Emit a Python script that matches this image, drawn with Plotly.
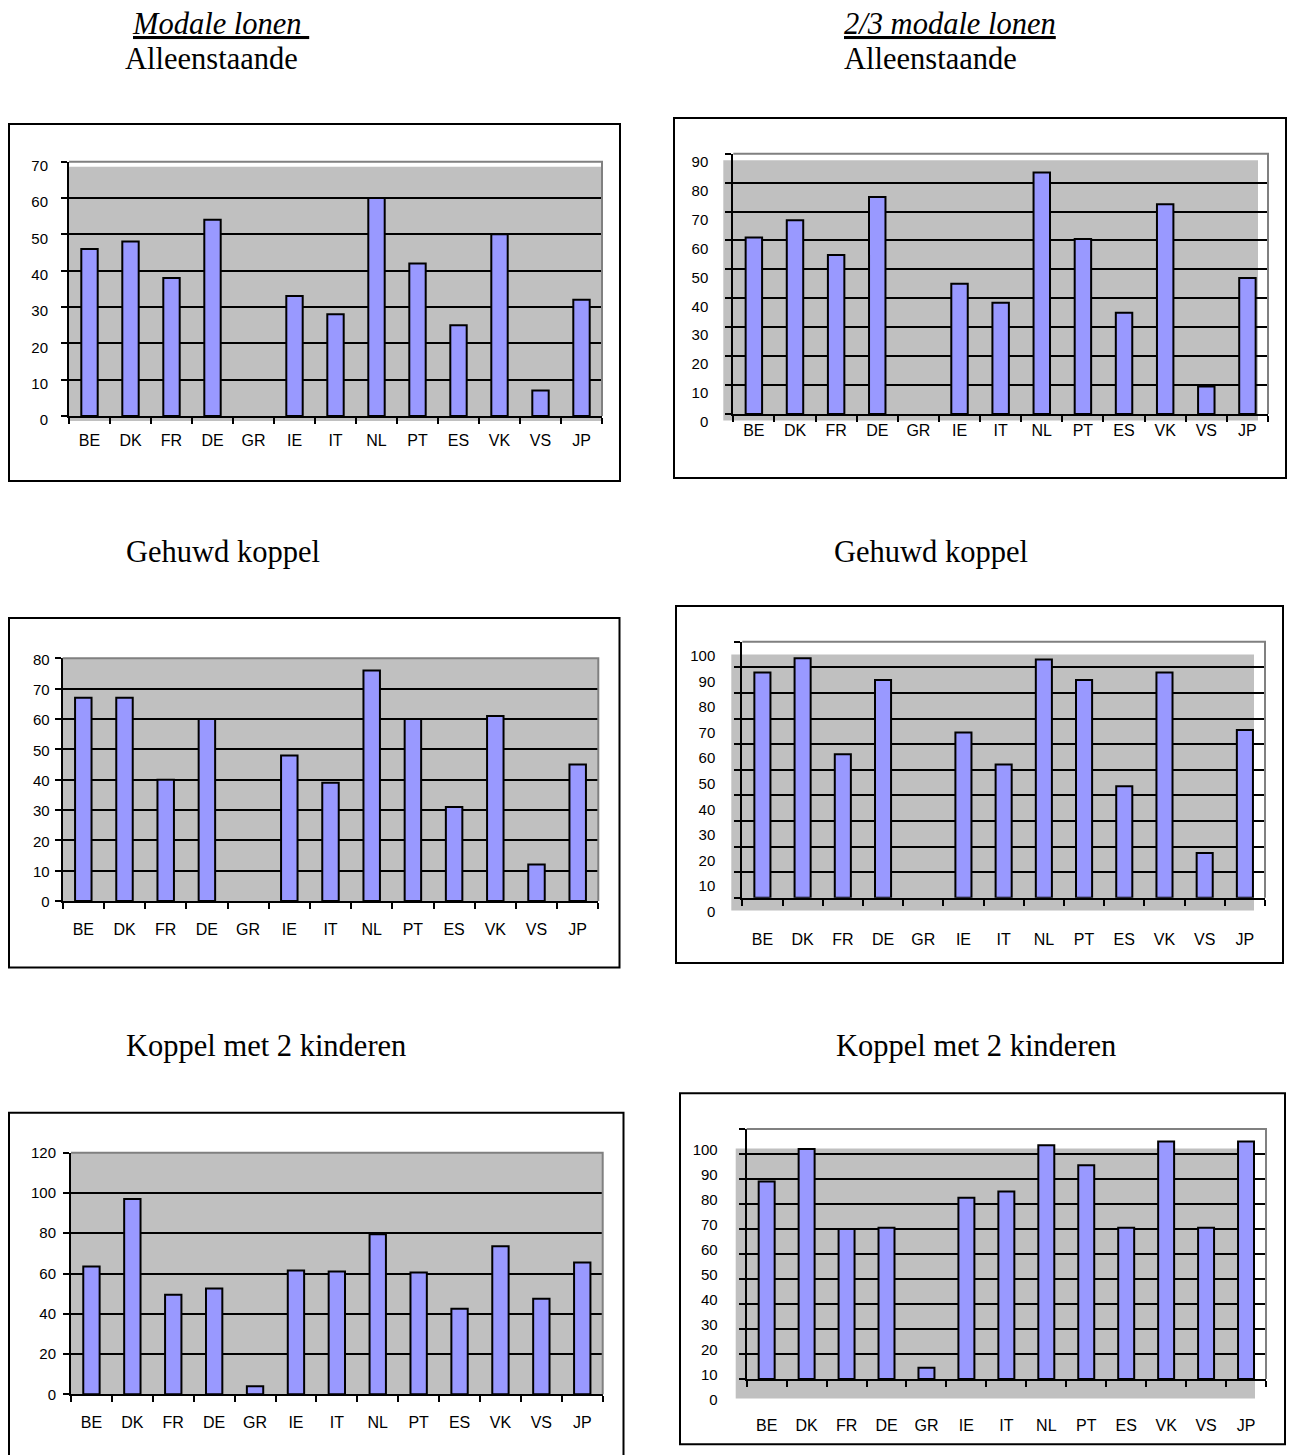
import plotly.graph_objects as go

# Netto vervangingsratio's per land (in %), zes grafieken
landen = ["BE", "DK", "FR", "DE", "GR", "IE", "IT", "NL", "PT", "ES", "VK", "VS", "JP"]

modaal_alleenstaande = [46, 48, 38, 54, None, 33, 28, 60, 42, 25, 50, 7, 32]
modaal_gehuwd = [67, 67, 40, 60, None, 48, 39, 76, 60, 31, 61, 12, 45]
modaal_kinderen = [63.5, 97, 49.5, 52.5, 4, 61.5, 61, 79.5, 60.5, 42.5, 73.5, 47.5, 65.5]

tweederde_alleenstaande = [61, 67, 55, 75, None, 45, 38.5, 83.5, 60.5, 35, 72.5, 9.5, 47]
tweederde_gehuwd = [88, 93.5, 56, 85, None, 64.5, 52, 93, 85, 43.5, 88, 17.5, 65.5]
tweederde_kinderen = [79, 92, 60, 60.5, 4.5, 72.5, 75, 93.5, 85.5, 60.5, 95, 60.5, 95]

y_max = [70, 90, 80, 100, 120, 100]
y_step = [10, 10, 10, 10, 20, 10]

kolom_titels = ["Modale lonen\u00a0", "2/3 modale lonen"]
rij_titels = ["Alleenstaande", "Gehuwd koppel", "Koppel met 2 kinderen"]

W, H = 1289, 1455
BAR_COLOR = "#9999FF"
FILL_GRAY = "#C0C0C0"
BORDER_GRAY = "#808080"


def px(x):
    return x / W


def py(y):
    return 1 - y / H


# plot-area rectangle (left, top, right, bottom), outer frame, offset of the
# grey wall, tick-label shift (pixels downward) and label gaps
layouts = [
    dict(values=modaal_alleenstaande, plot=(69, 161.7, 602, 416), frame=(9, 124, 620, 481),
         wall=(0, 5), yshift=4, ygap=10, xgap=9),
    dict(values=tweederde_alleenstaande, plot=(733.3, 153.7, 1268, 414), frame=(674, 118, 1286, 478),
         wall=(-10, 6.5), yshift=8, ygap=14, xgap=1),
    dict(values=modaal_gehuwd, plot=(62.7, 658.3, 598.3, 901), frame=(9, 618, 619.5, 967.5),
         wall=(0, 0), yshift=1, ygap=2, xgap=13),
    dict(values=tweederde_gehuwd, plot=(742.3, 641.7, 1265, 897.7), frame=(676, 606, 1283, 963),
         wall=(-11, 12.7), yshift=14, ygap=16, xgap=26),
    dict(values=modaal_kinderen, plot=(71, 1152.7, 602.7, 1394.3), frame=(9, 1112.7, 623.5, 1470),
         wall=(0, 0), yshift=0, ygap=4, xgap=12),
    dict(values=tweederde_kinderen, plot=(746.7, 1129, 1266, 1379), frame=(680, 1093.3, 1285, 1444.3),
         wall=(-11, 19.5), yshift=21, ygap=18, xgap=31),
]

fig = go.Figure()
shapes = []
layout_axes = {}

for i, p in enumerate(layouts):
    n = "" if i == 0 else str(i + 1)
    xa, ya = "x" + n, "y" + n
    l, t, r, b = p["plot"]

    fig.add_trace(go.Bar(
        x=landen, y=p["values"], xaxis=xa, yaxis=ya,
        marker=dict(color=BAR_COLOR, line=dict(color="black", width=2)),
        showlegend=False, hoverinfo="x+y",
    ))

    layout_axes["xaxis" + n] = dict(
        domain=[px(l), px(r)], anchor=ya, type="category", automargin=False,
        range=[-0.5, len(landen) - 0.5], showgrid=False, zeroline=False,
        showline=True, linecolor="black", linewidth=2,
        ticks="outside", tickson="boundaries", ticklen=6, tickwidth=1.5, tickcolor="black",
        tickfont=dict(family="Liberation Sans, Arial", size=16, color="black"),
        ticklabelstandoff=int(p["xgap"]), fixedrange=True,
    )
    layout_axes["yaxis" + n] = dict(
        domain=[py(b), py(t)], anchor=xa, range=[0, y_max[i]], dtick=y_step[i],
        tick0=0, automargin=False, showgrid=True, gridcolor="black", gridwidth=2,
        zeroline=False, showline=True, linecolor="black", linewidth=2,
        ticks="outside", ticklen=6, tickwidth=1.5, tickcolor="black",
        tickfont=dict(family="Liberation Sans, Arial", size=15, color="black"),
        ticklabelshift=int(p["yshift"]), ticklabelstandoff=int(p["ygap"]), fixedrange=True,
    )

    # grey wall behind the gridlines
    dx, dy = p["wall"]
    shapes.append(dict(
        type="rect", xref="paper", yref="paper", layer="below",
        x0=px(l + dx), x1=px(r + dx), y0=py(b + dy), y1=py(t + dy),
        fillcolor=FILL_GRAY, line=dict(width=0),
    ))
    # top and right edge of the plot area
    shapes.append(dict(
        type="path", xref="paper", yref="paper", layer="above",
        path=f"M {px(l)},{py(t)} L {px(r)},{py(t)} L {px(r)},{py(b)}",
        line=dict(color=BORDER_GRAY, width=2),
    ))
    # chart frame
    fl, ft, fr, fb = p["frame"]
    shapes.append(dict(
        type="rect", xref="paper", yref="paper", layer="above",
        x0=px(fl), x1=px(fr), y0=py(fb), y1=py(ft),
        line=dict(color="black", width=2), fillcolor="rgba(0,0,0,0)",
    ))

title_font = dict(family="Liberation Serif, Times New Roman", size=30.5, color="black")
annotations = []
for x0, titel in zip([130, 842], kolom_titels):
    annotations.append(dict(
        text=f"<u><i>{titel}</i></u>", x=px(x0), y=py(24), xref="paper", yref="paper",
        xanchor="left", yanchor="middle", showarrow=False, font=title_font,
    ))
row_y = [59, 552, 1046]
row_x = [(123, 842), (124, 832), (124, 834)]
for titel, yy, xs in zip(rij_titels, row_y, row_x):
    for x0 in xs:
        annotations.append(dict(
            text=titel, x=px(x0), y=py(yy), xref="paper", yref="paper",
            xanchor="left", yanchor="middle", showarrow=False, font=title_font,
        ))

fig.update_layout(
    width=W, height=H, margin=dict(l=0, r=0, t=0, b=0, pad=0, autoexpand=False),
    paper_bgcolor="white", plot_bgcolor="rgba(0,0,0,0)",
    bargap=0.6, shapes=shapes, annotations=annotations,
    **layout_axes,
)

fig.write_html("out.html", config={"displayModeBar": False})
